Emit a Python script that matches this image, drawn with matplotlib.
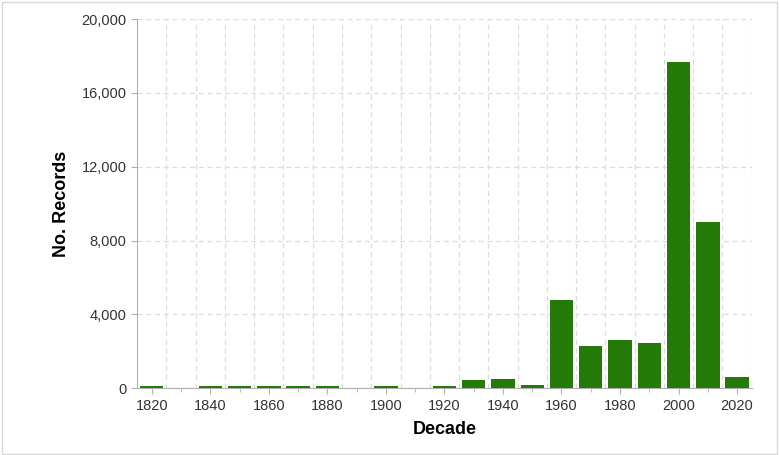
import numpy as np
import matplotlib.pyplot as plt
from matplotlib.ticker import FuncFormatter, MultipleLocator

plt.rcParams['font.family'] = ['Liberation Sans', 'DejaVu Sans']

decades = [1820, 1830, 1840, 1850, 1860, 1870, 1880, 1890, 1900, 1910,
           1920, 1930, 1940, 1950, 1960, 1970, 1980, 1990, 2000, 2010, 2020]
records = [100, 0, 100, 100, 100, 100, 100, 0, 100, 0,
           100, 430, 500, 180, 4800, 2280, 2600, 2450, 17670, 9000, 580]

fig = plt.figure(figsize=(7.79, 4.55), dpi=100)
ax = fig.add_axes([0.176, 0.147, 0.789, 0.811])

ax.bar(decades, records, width=8, color='#237a06', zorder=3)

ax.set_xlim(1815, 2025)
ax.set_ylim(0, 20000)
ax.set_yticks(np.arange(0, 20001, 4000))
ax.yaxis.set_major_formatter(FuncFormatter(lambda v, p: f'{int(v):,}'))
ax.set_xticks(np.arange(1820, 2021, 20))
ax.xaxis.set_minor_locator(MultipleLocator(10))

# dashed grid: horizontal at y ticks, vertical between decades
ax.grid(axis='y', linestyle=(0, (4, 3)), color='#dcdcdc', linewidth=0.9, zorder=0)
for gx in np.arange(1825, 2026, 10):
    ax.axvline(gx, linestyle=(0, (4, 3)), color='#dcdcdc', linewidth=0.9, zorder=0)

for s in ['top', 'right']:
    ax.spines[s].set_visible(False)
for s in ['left', 'bottom']:
    ax.spines[s].set_color('#b0b0b0')

ax.tick_params(axis='both', which='both', colors='#b0b0b0', labelcolor='#333333',
               labelsize=10.5, length=4)
ax.tick_params(axis='x', which='minor', length=3)

ax.set_xlabel('Decade', fontsize=13, fontweight='bold', labelpad=6)
ax.set_ylabel('No. Records', fontsize=13, fontweight='bold', labelpad=8)

fig.patches.append(plt.Rectangle((0.002, 0.002), 0.996, 0.994, transform=fig.transFigure,
                                 fill=False, edgecolor='#d8d8d8', linewidth=1))

fig.savefig('out.png', dpi=100)
